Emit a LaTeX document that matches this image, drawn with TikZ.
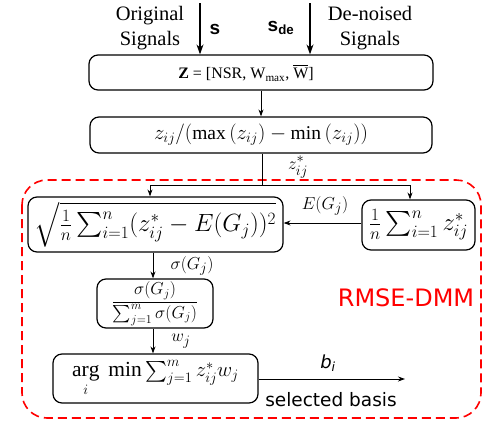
\documentclass[tikz,border=0pt]{standalone}
\usepackage{fontspec}
\usepackage{amsmath}
\setmainfont{Liberation Serif}
\newfontfamily\sansf{DejaVu Sans}
\newfontfamily\boldsansf{Liberation Sans}
\usetikzlibrary{arrows.meta}
\begin{document}
\begin{tikzpicture}[x=1pt,y=-1pt,
  box/.style={draw, line width=1.2pt, rounded corners=9pt, inner sep=0pt, align=center},
  conn/.style={line width=0.9pt, -{Stealth[length=7pt,width=5pt]}},
  bigconn/.style={line width=1.4pt, -{Stealth[length=10pt,width=7pt]}},
  lbl/.style={inner sep=1pt, font=\fontsize{19}{21}\selectfont},
  serlbl/.style={align=center, font=\fontsize{20.5}{25}\selectfont}]
\useasboundingbox (0,0) rectangle (484,423);
% dashed region
\draw[red, line width=1.6pt, dash pattern=on 9pt off 5pt, rounded corners=25pt] (22,180) rectangle (481,418);
\node[text=red, font=\sansf\fontsize{24}{26}\selectfont] (rmse) at (406,298) {RMSE-DMM};
% boxes
\node[box, minimum width=344pt, minimum height=35pt] (z) at (261,72.5) {};
\node[font=\fontsize{16}{18}\selectfont] (ztext) at (246,73)
  {$\mathbf{Z}$ = [NSR, W\textsubscript{max}, $\overline{\mathrm{W}}$]};
\node[box, font=\fontsize{19.5}{21}\selectfont, minimum width=342pt, minimum height=36pt] (norm) at (261,135)
  {$z_{ij}/(\max{(z_{ij})} - \min{(z_{ij})})$};
\node[box, font=\fontsize{23}{25}\selectfont, minimum width=255pt, minimum height=55pt] (sq) at (155.5,224.5)
  {$\sqrt{\frac{1}{n}\sum_{i=1}^{n}(z^{*}_{ij}-E(G_j))^2}$};
\node[box, font=\fontsize{23}{25}\selectfont, minimum width=113pt, minimum height=50pt] (mean) at (418.5,225)
  {$\frac{1}{n}\sum_{i=1}^{n}z^{*}_{ij}$};
\node[box, font=\fontsize{18}{20}\selectfont, minimum width=116pt, minimum height=49pt] (frac) at (155,303.5)
  {$\dfrac{\sigma(G_j)}{\sum_{j=1}^{m}\sigma(G_j)}$};
\node[box, font=\fontsize{21.5}{23}\selectfont, minimum width=205pt, minimum height=49pt] (arg) at (155.5,378.5)
  {$\mathop{\mathrm{arg}}\limits_{i}\ \min\sum_{j=1}^{m}z^{*}_{ij}w_j$};
% top inputs
\node[serlbl] (orig) at (150,28) {Original\\Signals};
\node[serlbl] (den) at (370,28) {De-noised\\Signals};
\coordinate (s1) at (200,3);
\coordinate (s2) at (310,3);
\draw[bigconn] (s1) -- (s1 |- z.north);
\draw[bigconn] (s2) -- (s2 |- z.north);
\node[font=\boldsansf\bfseries\fontsize{19}{21}\selectfont] (slbl) at (215,29) {s};
\node[font=\boldsansf\bfseries\fontsize{19}{21}\selectfont] (sdelbl) at (281,28) {s\textsubscript{de}};
% connectors
\draw[conn] (z.south -| norm.north) -- (norm.north);
\coordinate (br) at (262,185);
\coordinate (bl) at (150,185);
\coordinate (brr) at (410,185);
\draw[line width=0.9pt] (norm.south -| br) -- (br);
\node[lbl] (zs) at (298,167) {$z^{*}_{ij}$};
\draw[line width=0.9pt] (bl) -- (brr);
\draw[conn] (bl) -- (bl |- sq.north);
\draw[conn] (brr) -- (brr |- mean.north);
\draw[conn] (mean.west |- 0,223) -- (sq.east |- 0,223);
\node[lbl] (eg) at (325,206) {$E(G_j)$};
\coordinate (c1) at (153,0);
\draw[conn] (c1 |- sq.south) -- (c1 |- frac.north);
\node[lbl] (sg) at (192,266) {$\sigma(G_j)$};
\draw[conn] (c1 |- frac.south) -- (c1 |- arg.north);
\node[lbl] (wj) at (181,341) {$w_j$};
\coordinate (out) at (405,379);
\draw[conn] (arg.east |- out) -- (out);
\node[font=\sansf\itshape\fontsize{18}{20}\selectfont] (bi) at (328,363) {b\textsubscript{\itshape i}};
\node[font=\sansf\fontsize{18.5}{20}\selectfont] (sel) at (331,400) {selected basis};
\end{tikzpicture}
\end{document}
